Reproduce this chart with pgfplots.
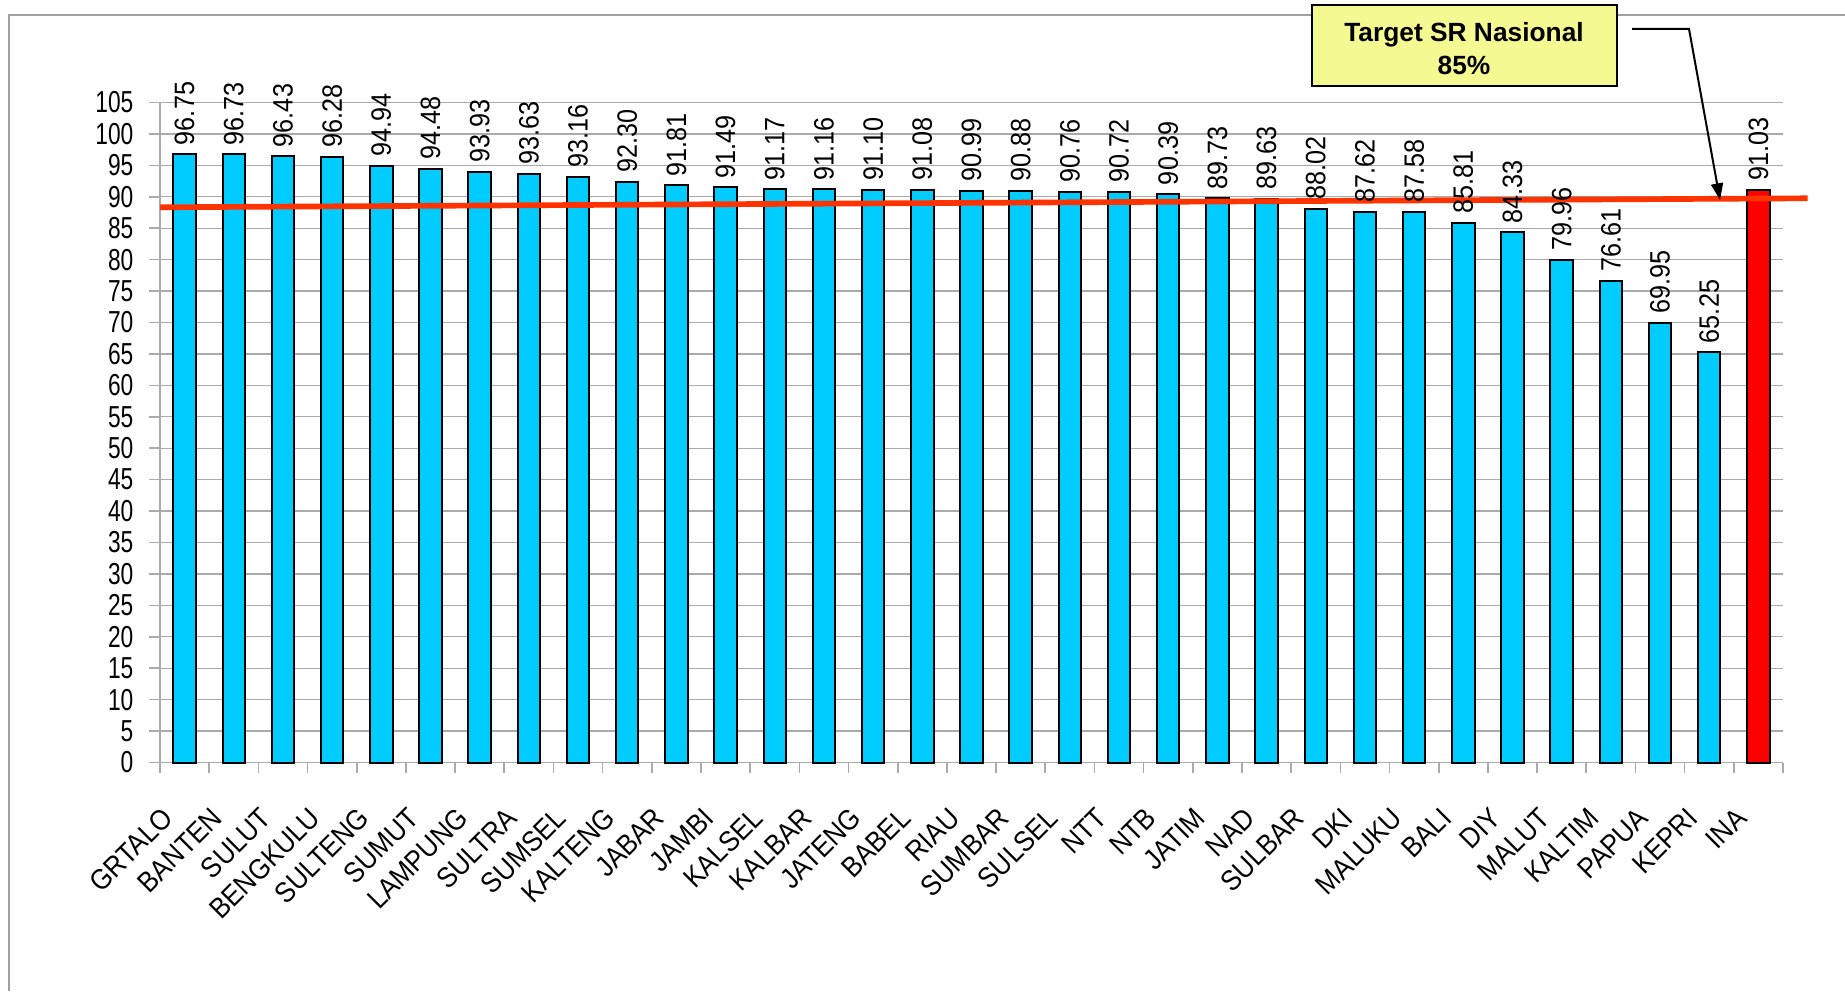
\documentclass[border=0pt]{standalone}
\usepackage{fontspec}
\setmainfont{Liberation Sans}
\newfontfamily\ytfont[FakeStretch=0.75]{Liberation Sans}
\newfontfamily\vfont[FakeStretch=0.9]{Liberation Sans}
\newfontfamily\catfont[FakeStretch=0.9]{Liberation Sans}
\usepackage{pgfplots}
\pgfplotsset{compat=1.18}
\usetikzlibrary{arrows.meta}
\definecolor{barblue}{RGB}{0,204,255}
\definecolor{inared}{RGB}{255,0,0}
\definecolor{tline}{RGB}{255,51,0}
\definecolor{boxyellow}{RGB}{245,249,145}
\definecolor{gridgray}{RGB}{170,170,170}
\definecolor{framegray}{RGB}{160,160,160}
\begin{document}
\begin{tikzpicture}
\useasboundingbox (-48pt,-68.55pt) rectangle (505.5pt,228.75pt);
\draw[framegray, line width=0.4pt] (-45.3pt,-68.55pt) -- (-45.3pt,224.25pt) -- (505.5pt,224.25pt);
\begin{axis}[
  at={(0pt,0pt)}, anchor=south west,
  scale only axis, width=486.9pt, height=198pt,
  xmin=-0.5, xmax=32.5, ymin=0, ymax=105,
  enlargelimits=false, clip=false,
  axis x line*=bottom, axis y line*=left,
  axis line style={gridgray, line width=0.5pt},
  ytick={0,5,...,105},
  xtick={0,...,32},
  xticklabels={GRTALO,BANTEN,SULUT,BENGKULU,SULTENG,SUMUT,LAMPUNG,SULTRA,SUMSEL,KALTENG,JABAR,JAMBI,KALSEL,KALBAR,JATENG,BABEL,RIAU,SUMBAR,SULSEL,NTT,NTB,JATIM,NAD,SULBAR,DKI,MALUKU,BALI,DIY,MALUT,KALTIM,PAPUA,KEPRI,INA},
  minor xtick={-0.5,0.5,...,32.5},
  tick align=outside,
  major tick length=3.3pt, minor tick length=3pt,
  major x tick style={draw=none},
  minor x tick style={gridgray, line width=0.5pt},
  ytick style={gridgray, line width=0.5pt},
  ymajorgrids, grid style={gridgray, line width=0.4pt},
  /pgf/number format/assume math mode=true,
  yticklabel style={font=\ytfont\fontsize{9.1}{10}\selectfont, anchor=east, inner sep=0pt, xshift=-4.5pt},
  xticklabel style={font=\catfont\fontsize{8.6}{10}\selectfont, xshift=-5pt, yshift=-11.8pt, rotate=45, anchor=east, inner sep=0pt},
]
\addplot[ybar, bar width=6.75pt, bar shift=0pt, fill=barblue, draw=black, line width=0.6pt,
  point meta=y,
  nodes near coords={\pgfmathprintnumber[fixed,fixed zerofill,precision=2]{\pgfplotspointmeta}},
  nodes near coords style={font=\vfont\fontsize{8.4}{10}\selectfont, rotate=90, anchor=west, inner sep=2.5pt, text=black}]
coordinates {
(0,96.75) (1,96.73) (2,96.43) (3,96.28) (4,94.94) (5,94.48) (6,93.93) (7,93.63) (8,93.16) (9,92.30)
(10,91.81) (11,91.49) (12,91.17) (13,91.16) (14,91.10) (15,91.08) (16,90.99) (17,90.88) (18,90.76) (19,90.72)
(20,90.39) (21,89.73) (22,89.63) (23,88.02) (24,87.62) (25,87.58) (26,85.81) (27,84.33) (28,79.96) (29,76.61)
(30,69.95) (31,65.25)
};
\addplot[ybar, bar width=6.75pt, bar shift=0pt, fill=inared, draw=black, line width=0.6pt,
  point meta=y,
  nodes near coords={\pgfmathprintnumber[fixed,fixed zerofill,precision=2]{\pgfplotspointmeta}},
  nodes near coords style={font=\vfont\fontsize{8.4}{10}\selectfont, rotate=90, anchor=west, inner sep=2.5pt, text=black}]
coordinates {(32,91.03)};
\addplot[tline, line width=1.7pt, no marks] coordinates {(-0.5,88.33) (33.0,89.76)};
\end{axis}
\draw[fill=boxyellow, line width=0.6pt] (345.6pt,202.95pt) rectangle (437.1pt,227.25pt);
\node[anchor=base, inner sep=0pt, font=\bfseries\fontsize{7.9}{9}\selectfont] at (391.2pt,216.15pt) {Target SR Nasional};
\node[anchor=base, inner sep=0pt, font=\bfseries\fontsize{7.9}{9}\selectfont] at (391.2pt,206.25pt) {85\%};
\draw[line width=0.6pt, -{Triangle[length=5pt, width=3.6pt]}] (441.6pt,220.05pt) -- (458.7pt,220.05pt) -- (468pt,168.75pt);
\end{tikzpicture}
\end{document}
